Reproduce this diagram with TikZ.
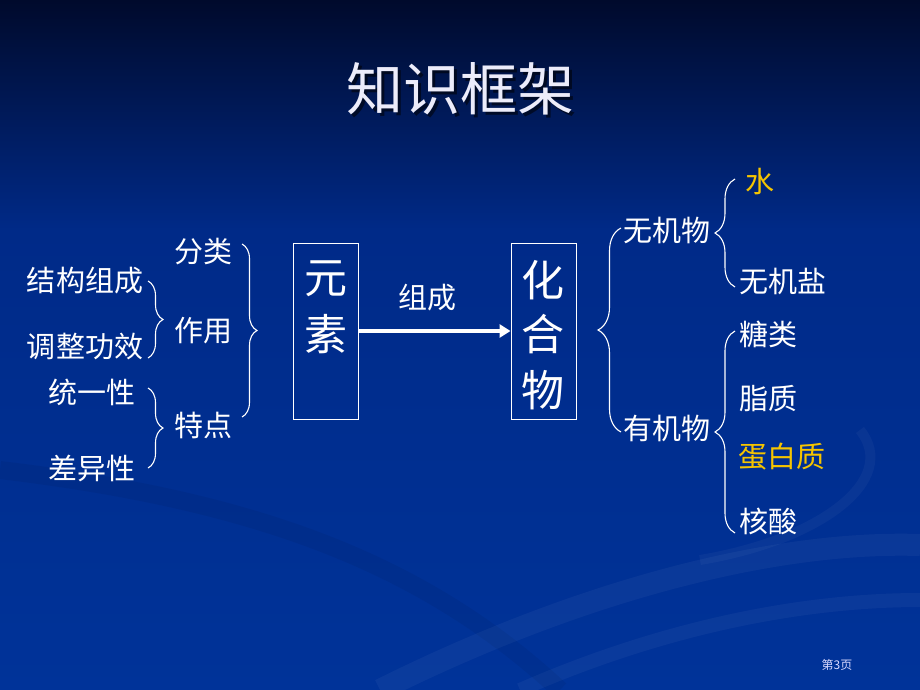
\documentclass[tikz,border=0pt]{standalone}
\usepackage{fontspec}
\newfontfamily\cjk{Noto Sans CJK SC}
\usetikzlibrary{decorations.pathreplacing,arrows.meta}
\definecolor{bgtop}{HTML}{000A2C}
\definecolor{bgmid}{HTML}{002A88}
\definecolor{bgbot}{HTML}{003399}
\definecolor{gold}{HTML}{F5C400}
\definecolor{titlec}{HTML}{ECECFA}
\begin{document}
\begin{tikzpicture}[x=1pt,y=-1pt,
  txt/.style={font=\cjk\fontsize{29}{32}\selectfont, text=white, inner sep=0pt},
  big/.style={font=\cjk\fontsize{43}{46}\selectfont, text=white, inner sep=0pt},
  hl/.style={txt, text=gold},
  brc/.style={draw=white, line width=1.1pt, decorate},
  boxst/.style={draw=white, line width=1pt, minimum width=65pt, minimum height=176pt, inner sep=0pt}]
\useasboundingbox (0,0) rectangle (920,690);
% background
\shade[top color=bgtop, bottom color=bgmid] (0,0) rectangle (920,231);
\shade[top color=bgmid, bottom color=bgbot] (0,230) rectangle (920,690);
% faint decorative swooshes
\draw[white, opacity=0.04, line width=22pt] (380,690) .. controls (560,600) and (760,540) .. (920,545);
\draw[white, opacity=0.04, line width=14pt] (520,690) .. controls (680,620) and (820,600) .. (920,600);
\draw[black, opacity=0.05, line width=18pt] (0,470) .. controls (250,500) and (420,560) .. (560,690);
\draw[white, opacity=0.035, line width=10pt] (700,560) .. controls (820,540) and (900,480) .. (860,430);
% title with shadow
\node[font=\cjk\fontsize{57}{62}\selectfont, text=black, opacity=0.55, inner sep=0pt] (tsh) at (463,92) {知识框架};
\node[font=\cjk\fontsize{57}{62}\selectfont, text=titlec, inner sep=0pt] (title) at (460,89) {知识框架};
% left texts
\node[txt] (jg) at (85,281) {结构组成};
\node[txt] (tz) at (85,347) {调整功效};
\node[txt] (ty) at (92,392) {统一性};
\node[txt] (cy) at (92,468) {差异性};
\node[txt] (fl) at (203,252) {分类};
\node[txt] (zy) at (203,331) {作用};
\node[txt] (td) at (203,425) {特点};
% braces left
\draw[brc, decoration={brace, amplitude=15pt}] (148,281) -- (148,358);
\draw[brc, decoration={brace, amplitude=15pt}] (148,388) -- (148,468);
\draw[brc, decoration={brace, amplitude=15pt}] (242,244) -- (242,417);
% boxes
\node[boxst] (ys) at (325.5,331) {};
\node[boxst] (hh) at (543.5,331) {};
\node[big] (c1) at (326,279) {元};
\node[big] (c2) at (326,334) {素};
\node[big] (c3) at (543,280) {化};
\node[big] (c4) at (543,334) {合};
\node[big] (c5) at (543,390) {物};
\draw[white, line width=3.5pt, -{Triangle[length=11pt,width=13pt]}] (ys.east) -- (hh.west);
\node[txt] (zc) at (427,298) {组成};
% right braces
\draw[brc, decoration={brace, amplitude=23pt}] (621,432) -- (621,228);
\draw[brc, decoration={brace, amplitude=20pt}] (735,287) -- (735,179);
\draw[brc, decoration={brace, amplitude=20pt}] (735,533) -- (735,331);
% right texts
\node[txt] (wj) at (667,230) {无机物};
\node[txt] (yj) at (667,428) {有机物};
\node[hl] (sh) at (760,182) {水};
\node[txt] (wy) at (783,281) {无机盐};
\node[txt] (tl) at (768,334) {糖类};
\node[txt] (zz) at (768,399) {脂质};
\node[hl] (db) at (782,457) {蛋白质};
\node[txt] (hs) at (768,521) {核酸};
% page number
\node[font=\cjk\fontsize{12}{14}\selectfont, text=white!85!blue, inner sep=0pt] (pg) at (837,665) {第3页};
\end{tikzpicture}
\end{document}
